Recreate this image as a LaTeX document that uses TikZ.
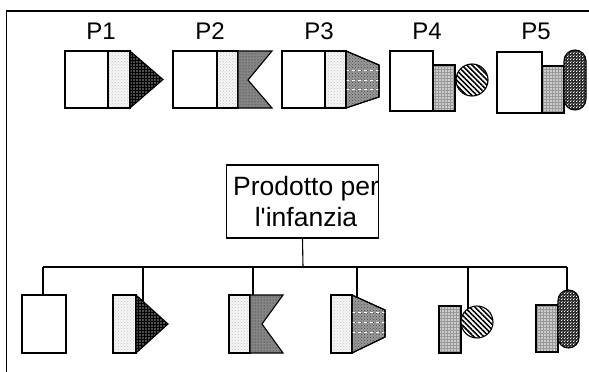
\documentclass[tikz,border=0pt]{standalone}
\usepackage{fontspec}
\setmainfont{Liberation Sans}
\newfontfamily\arialf{Liberation Sans}
\usetikzlibrary{patterns,patterns.meta}
\tikzdeclarepattern{
  name=finechk,
  type=uncolored,
  bounding box={(0pt,0pt) and (3pt,3pt)},
  tile size={(3pt,3pt)},
  code={
    \pgfpathrectangle{\pgfpoint{0.15pt}{0.15pt}}{\pgfpoint{1.2pt}{1.2pt}}
    \pgfpathrectangle{\pgfpoint{1.65pt}{1.65pt}}{\pgfpoint{1.2pt}{1.2pt}}
    \pgfusepath{fill}
  }
}
\begin{document}
\begin{tikzpicture}[x=1pt,y=-1pt,
  ol/.style={draw=black,line width=1.1pt,line join=miter},
  wbox/.style={ol,fill=white,inner sep=0pt,outer sep=0pt,anchor=north west},
  ltdot/.style={ol,preaction={fill=gray!8},pattern=crosshatch dots,pattern color=gray!45},
  dkcheck/.style={ol,preaction={fill=black!70},pattern=grid,pattern color=black},
  dkdot/.style={ol,preaction={fill=black!48},pattern=dots,pattern color=black!85},
  trapst/.style={ol,preaction={fill=black!40},pattern=crosshatch dots,pattern color=black!70},
  gsq/.style={ol,preaction={fill=gray!40},pattern=grid,pattern color=gray!80},
  stripe/.style={ol,preaction={fill=white},pattern={Lines[angle=-45,distance=3.6pt,line width=1.6pt]}},
  chk/.style={ol,preaction={fill=black!85},pattern=finechk,pattern color=white},
  dashw/.style={draw=white,dashed,line width=0.8pt},
  lbl/.style={font=\arialf\fontsize{24}{28}\selectfont,anchor=base},
  conn/.style={draw=black,line width=1.1pt}
]
\useasboundingbox (0,0) rectangle (589,372);
% frame
\draw[line width=1.5pt] (6.5,372) -- (6.5,11) -- (589,11);

% labels
\node[lbl] (l1) at (101,39) {P1};
\node[lbl] (l2) at (210,39) {P2};
\node[lbl] (l3) at (319,39) {P3};
\node[lbl] (l4) at (427,39) {P4};
\node[lbl] (l5) at (536,39) {P5};

% P1
\node[wbox,minimum width=43pt,minimum height=57pt] (p1w) at (65,51) {};
\node[wbox,ltdot,minimum width=22pt,minimum height=57pt] (p1d) at (108,51) {};
\path[dkcheck] (130,51) -- (163,79.5) -- (130,108) -- cycle;
% P2
\node[wbox,minimum width=44pt,minimum height=57pt] (p2w) at (173,51) {};
\node[wbox,ltdot,minimum width=21pt,minimum height=57pt] (p2d) at (217,51) {};
\path[dkdot] (238,51) -- (272,51) -- (248,80) -- (272,108) -- (238,108) -- cycle;
% P3
\node[wbox,minimum width=43pt,minimum height=57pt] (p3w) at (282,51) {};
\node[wbox,ltdot,minimum width=21pt,minimum height=57pt] (p3d) at (325,51) {};
\path[trapst] (346,51) -- (379,65) -- (379,97) -- (346,108) -- cycle;
\begin{scope}
  \clip (346,51) -- (379,65) -- (379,97) -- (346,108) -- cycle;
  \draw[dashw] (346,70) -- (379,70);
  \draw[dashw] (346,80) -- (379,80);
  \draw[dashw] (346,89) -- (379,89);
\end{scope}
\draw[ol] (346,51) -- (379,65) -- (379,97) -- (346,108) -- cycle;
% P4
\node[wbox,minimum width=43pt,minimum height=60pt] (p4w) at (390,51) {};
\node[wbox,gsq,minimum width=22pt,minimum height=46pt] (p4g) at (433,65) {};
\path[stripe] (472,80) circle[radius=16pt];
% P5
\node[wbox,minimum width=45pt,minimum height=61pt] (p5w) at (497,52) {};
\node[wbox,gsq,minimum width=22pt,minimum height=47pt] (p5g) at (542,66) {};
\path[chk,rounded corners=10.9pt] (564,50) rectangle (586,110);

% root
\node[draw,line width=1.1pt,fill=white,minimum width=151pt,minimum height=73pt,inner sep=0pt,
      align=center,font=\arialf\fontsize{26.5}{31}\selectfont] (root) at (302.5,201.5)
      {\hspace*{7pt}Prodotto per\\\hspace*{7pt}l'infanzia};

% bottom children
\node[wbox,minimum width=44pt,minimum height=58pt] (b1w) at (22,295) {};
\node[wbox,ltdot,minimum width=23pt,minimum height=58pt] (b2d) at (113,295) {};
\path[dkcheck] (136,295) -- (168,324) -- (136,353) -- cycle;
\node[wbox,ltdot,minimum width=21pt,minimum height=58pt] (b3d) at (229,295) {};
\path[dkdot] (250,295) -- (283,295) -- (262,324) -- (283,353) -- (250,353) -- cycle;
\node[wbox,ltdot,minimum width=21pt,minimum height=58pt] (b4d) at (331,295) {};
\path[trapst] (352,295) -- (385,310) -- (385,337) -- (352,353) -- cycle;
\begin{scope}
  \clip (352,295) -- (385,310) -- (385,337) -- (352,353) -- cycle;
  \draw[dashw] (352,312) -- (385,312);
  \draw[dashw] (352,322) -- (385,322);
  \draw[dashw] (352,332) -- (385,332);
\end{scope}
\draw[ol] (352,295) -- (385,310) -- (385,337) -- (352,353) -- cycle;
\node[wbox,gsq,minimum width=22pt,minimum height=47pt] (b5g) at (439,306) {};
\path[stripe] (477,322) circle[radius=16pt];
\node[wbox,gsq,minimum width=22pt,minimum height=47pt] (b6g) at (536,305) {};
\path[chk,rounded corners=10.4pt] (558,290) rectangle (579,348);

% connector points
\coordinate (hub) at (303,267);
\coordinate (j1) at (43,267);
\coordinate (j2) at (143,267);
\coordinate (j3) at (253,267);
\coordinate (j4) at (357,267);
\coordinate (j5) at (468,267);
\coordinate (j6) at (567,267);
\coordinate (t1) at (43,295);
\coordinate (t2) at (143,301.3);
\coordinate (t3) at (253,295);
\coordinate (t4) at (357,297.3);
\coordinate (t5) at (468,308.8);
\coordinate (t6) at (567,290.5);

\draw[conn] (root.south) -- (hub);
\draw[conn] (j1) -- (j6);
\draw[conn] (j1) -- (t1);
\draw[conn] (j2) -- (t2);
\draw[conn] (j3) -- (t3);
\draw[conn] (j4) -- (t4);
\draw[conn] (j5) -- (t5);
\draw[conn] (j6) -- (t6);
\end{tikzpicture}
\end{document}
